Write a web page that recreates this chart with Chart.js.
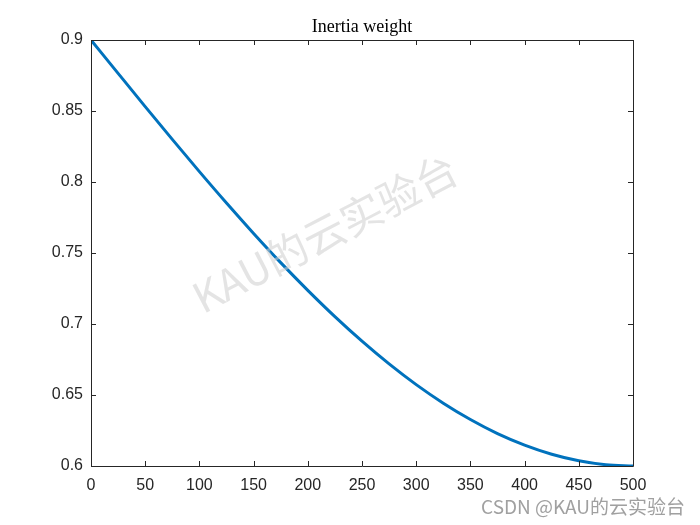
<!DOCTYPE html>
<html>
<head>
<meta charset="utf-8">
<script src="https://cdn.jsdelivr.net/npm/chart.js@4.4.0/dist/chart.umd.min.js"></script>
<style>
  html, body { margin: 0; padding: 0; background: #fff; }
  #box { width: 700px; height: 525px; }
</style>
</head>
<body>
<div id="box"><canvas id="grafico"></canvas></div>
<script>
// valores
const iteracoes = [0, 25, 50, 75, 100, 125, 150, 175, 200, 225, 250, 275, 300, 325, 350, 375, 400, 425, 450, 475, 500];
const pesos = [0.9000, 0.8765, 0.8531, 0.8300, 0.8073, 0.7852, 0.7638, 0.7432, 0.7237, 0.7052, 0.6879, 0.6719, 0.6573, 0.6442, 0.6327, 0.6228, 0.6147, 0.6083, 0.6037, 0.6009, 0.6000];
const ticksX = [0, 50, 100, 150, 200, 250, 300, 350, 400, 450, 500];
const ticksY = [0.6, 0.65, 0.7, 0.75, 0.8, 0.85, 0.9];
const titulo = "Inertia weight";
const marcaDagua = "KAU的云实验台";
const rodape = "CSDN @KAU的云实验台";

const corEixo = "#262626";

// caixa, ticks para dentro, titulo e marcas d'agua
const extras = {
  id: "extras",
  afterDraw(chart) {
    const ctx = chart.ctx;
    const a = chart.chartArea;
    const sx = chart.scales.x;
    const sy = chart.scales.y;
    ctx.save();

    // marca d'agua central
    ctx.save();
    ctx.translate(325, 233);
    ctx.rotate(-27.5 * Math.PI / 180);
    ctx.font = '42px "Noto Sans CJK SC", "Noto Sans", sans-serif';
    ctx.fillStyle = "rgba(205,205,205,0.55)";
    ctx.textAlign = "center";
    ctx.textBaseline = "middle";
    ctx.fillText(marcaDagua, 0, 0);
    ctx.restore();

    ctx.strokeStyle = corEixo;
    ctx.lineWidth = 1;
    ctx.beginPath();
    ctx.rect(Math.round(a.left) + 0.5, Math.round(a.top) + 0.5, Math.round(a.right - a.left), Math.round(a.bottom - a.top));
    ctx.stroke();

    ctx.beginPath();
    ticksX.forEach(v => {
      const px = Math.round(sx.getPixelForValue(v)) + 0.5;
      ctx.moveTo(px, a.bottom); ctx.lineTo(px, a.bottom - 5);
      ctx.moveTo(px, a.top); ctx.lineTo(px, a.top + 5);
    });
    ticksY.forEach(v => {
      const py = Math.round(sy.getPixelForValue(v)) + 0.5;
      ctx.moveTo(a.left, py); ctx.lineTo(a.left + 5, py);
      ctx.moveTo(a.right, py); ctx.lineTo(a.right - 5, py);
    });
    ctx.stroke();

    ctx.fillStyle = "#000";
    ctx.font = '18px "Liberation Serif", "Times New Roman", serif';
    ctx.textAlign = "center";
    ctx.textBaseline = "alphabetic";
    ctx.fillText(titulo, (a.left + a.right) / 2, 32);

    ctx.fillStyle = "#a0a0a0";
    ctx.font = '19px "Noto Sans CJK SC", "Noto Sans", sans-serif';
    ctx.textAlign = "right";
    ctx.textBaseline = "middle";
    ctx.fillText(rodape, 685, 507);

    ctx.restore();
  }
};

const ctx = document.getElementById("grafico").getContext("2d");
new Chart(ctx, {
  type: "line",
  data: {
    datasets: [{
      label: titulo,
      data: iteracoes.map((it, i) => ({ x: it, y: pesos[i] })),
      borderColor: "#0072BD",
      borderWidth: 3,
      pointRadius: 0,
      cubicInterpolationMode: "monotone",
      fill: false
    }]
  },
  options: {
    responsive: true,
    maintainAspectRatio: false,
    animation: false,
    layout: { padding: { left: 0, right: 67, top: 40, bottom: 0 } },
    plugins: {
      legend: { display: false },
      title: { display: false },
      tooltip: { enabled: false }
    },
    scales: {
      x: {
        type: "linear",
        min: 0,
        max: 500,
        afterBuildTicks: s => { s.ticks = ticksX.map(v => ({ value: v })); },
        afterFit: s => { s.height = 59; },
        grid: { display: false, drawTicks: false },
        border: { display: false },
        ticks: {
          color: corEixo,
          padding: 10,
          maxRotation: 0,
          font: { family: '"Liberation Sans", Arial, sans-serif', size: 16 },
          callback: v => String(v)
        }
      },
      y: {
        type: "linear",
        min: 0.6,
        max: 0.9,
        afterBuildTicks: s => { s.ticks = ticksY.map(v => ({ value: v })); },
        afterFit: s => { s.width = 91; },
        grid: { display: false, drawTicks: false },
        border: { display: false },
        ticks: {
          color: corEixo,
          padding: 8,
          font: { family: '"Liberation Sans", Arial, sans-serif', size: 16 },
          callback: v => String(+v.toFixed(2))
        }
      }
    }
  },
  plugins: [extras]
});
</script>
</body>
</html>
